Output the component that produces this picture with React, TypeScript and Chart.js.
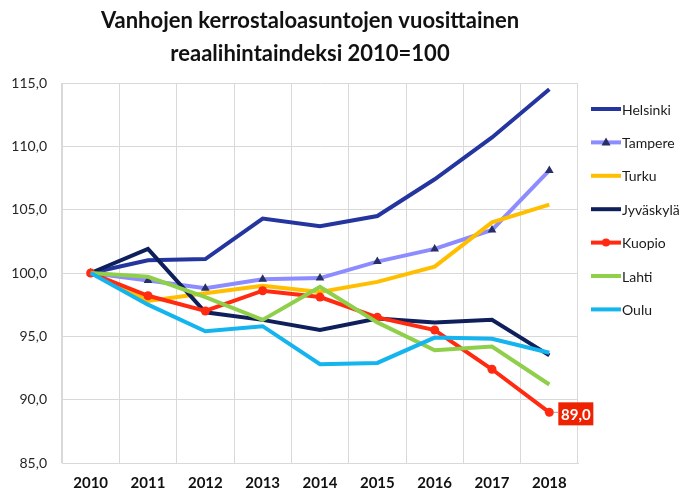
import React, { useEffect, useRef } from "react";
import { Chart, registerables } from "chart.js";

Chart.register(...registerables);

const years = ["2010", "2011", "2012", "2013", "2014", "2015", "2016", "2017", "2018"];
const titleLines = ["Vanhojen kerrostaloasuntojen vuosittainen", "reaalihintaindeksi 2010=100"];

const helsinki = [100, 101.0, 101.1, 104.3, 103.7, 104.5, 107.4, 110.7, 114.5];
const tampere = [100, 99.4, 98.8, 99.5, 99.6, 100.9, 101.9, 103.4, 108.1];
const turku = [100, 97.8, 98.4, 99.0, 98.5, 99.3, 100.5, 104.0, 105.4];
const jyvaskyla = [100, 101.9, 96.9, 96.3, 95.5, 96.4, 96.1, 96.3, 93.5];
const kuopio = [100, 98.2, 97.0, 98.6, 98.1, 96.5, 95.5, 92.4, 89.0];
const lahti = [100, 99.7, 98.1, 96.3, 98.9, 96.1, 93.9, 94.2, 91.2];
const oulu = [100, 97.5, 95.4, 95.8, 92.8, 92.9, 94.9, 94.8, 93.7];

const seriesNames = ["Helsinki", "Tampere", "Turku", "Jyväskylä", "Kuopio", "Lahti", "Oulu"];
const seriesValues = [helsinki, tampere, turku, jyvaskyla, kuopio, lahti, oulu];
const seriesColors = ["#2435a0", "#8c8cff", "#ffbf00", "#0e1f5b", "#ff2a10", "#8fcf4a", "#14b4ef"];
const seriesMarkers: (string | null)[] = [null, "triangle", null, null, "circle", null, null];
const markerColors: (string | null)[] = [null, "#262f66", null, null, "#ff2a10", null, null];

const yTicksMin = 85;
const yTicksMax = 115;
const yTicksStep = 5;
const labelSeriesIndex = 4;

const FONT = "Lato, 'Open Sans', sans-serif";

const fmt = (v: number) => v.toFixed(1).replace(".", ",");

const titlePlugin = {
  id: "customTitle",
  afterDraw(chart: any) {
    const ctx = chart.ctx;
    ctx.save();
    ctx.fillStyle = "#111111";
    ctx.textAlign = "center";
    ctx.textBaseline = "middle";
    let size = 22;
    ctx.font = `bold ${size}px ${FONT}`;
    while (ctx.measureText(titleLines[0]).width > 440 && size > 12) {
      size -= 0.5;
      ctx.font = `bold ${size}px ${FONT}`;
    }
    ctx.fillText(titleLines[0], 310, 21);
    ctx.fillText(titleLines[1], 310, 54);
    ctx.restore();
  },
};

const legendPlugin = {
  id: "customLegend",
  afterDraw(chart: any) {
    const ctx = chart.ctx;
    ctx.save();
    chart.data.datasets.forEach((ds: any, i: number) => {
      const y = 109 + i * 33.4;
      ctx.strokeStyle = ds.borderColor;
      ctx.lineWidth = 4;
      ctx.lineCap = "butt";
      ctx.beginPath();
      ctx.moveTo(591, y);
      ctx.lineTo(621, y);
      ctx.stroke();
      const cx = 606;
      const marker = seriesMarkers[i];
      const mColor = markerColors[i] || ds.borderColor;
      if (marker === "triangle") {
        ctx.fillStyle = mColor;
        ctx.beginPath();
        ctx.moveTo(cx, y - 5);
        ctx.lineTo(cx + 4.5, y + 3);
        ctx.lineTo(cx - 4.5, y + 3);
        ctx.closePath();
        ctx.fill();
      } else if (marker === "circle") {
        ctx.fillStyle = mColor;
        ctx.beginPath();
        ctx.arc(cx, y, 4, 0, Math.PI * 2);
        ctx.fill();
      }
      ctx.fillStyle = "#1a1a1a";
      ctx.font = `14px ${FONT}`;
      ctx.textAlign = "left";
      ctx.textBaseline = "middle";
      ctx.fillText(ds.label, 622, y + 1);
    });
    ctx.restore();
  },
};

const dataLabelPlugin = {
  id: "dataLabel",
  afterDatasetsDraw(chart: any) {
    const meta = chart.getDatasetMeta(labelSeriesIndex);
    const pts = meta.data;
    const last = pts[pts.length - 1];
    const value = seriesValues[labelSeriesIndex][seriesValues[labelSeriesIndex].length - 1];
    const ctx = chart.ctx;
    ctx.save();
    const x = last.x;
    const y = last.y;
    ctx.strokeStyle = "#a6a6a6";
    ctx.lineWidth = 1;
    ctx.beginPath();
    ctx.moveTo(x + 4, y);
    ctx.lineTo(x + 9, y);
    ctx.stroke();
    const bx = x + 9;
    const bw = 35;
    const bh = 23;
    const by = y - 10;
    ctx.fillStyle = "#ee2200";
    ctx.fillRect(bx, by, bw, bh);
    ctx.fillStyle = "#ffffff";
    ctx.font = `bold 15px ${FONT}`;
    ctx.textAlign = "center";
    ctx.textBaseline = "middle";
    ctx.fillText(fmt(value), bx + bw / 2, by + bh / 2 + 1);
    ctx.restore();
  },
};

export default function App() {
  const ref = useRef<HTMLCanvasElement | null>(null);
  useEffect(() => {
    if (!ref.current) return;
    const chart = new Chart(ref.current, {
      type: "line",
      data: {
        labels: years,
        datasets: seriesNames.map((name, i) => ({
          label: name,
          data: seriesValues[i],
          borderColor: seriesColors[i],
          backgroundColor: seriesColors[i],
          borderWidth: 4,
          tension: 0,
          pointStyle: seriesMarkers[i] || "circle",
          pointRadius: seriesMarkers[i] === "triangle" ? 5 : seriesMarkers[i] === "circle" ? 4.5 : 0,
          pointBackgroundColor: markerColors[i] || seriesColors[i],
          pointBorderColor: markerColors[i] || seriesColors[i],
          pointBorderWidth: 0,
          order: 10 - i,
        })),
      },
      plugins: [titlePlugin, legendPlugin, dataLabelPlugin],
      options: {
        responsive: true,
        maintainAspectRatio: false,
        animation: false,
        layout: { padding: { top: 83, right: 107, bottom: 0, left: 0 } },
        plugins: {
          legend: { display: false },
          title: { display: false },
          tooltip: { enabled: false },
        },
        scales: {
          x: {
            offset: true,
            grid: { offset: true, color: "#d9d9d9", drawTicks: false },
            border: { color: "#d9d9d9" },
            ticks: {
              padding: 11,
              color: "#111111",
              font: { family: FONT, size: 15, weight: "bold" },
            },
            afterFit: (s: any) => {
              s.height = 30;
            },
          },
          y: {
            min: yTicksMin,
            max: yTicksMax,
            grid: { color: "#d9d9d9", drawTicks: false },
            border: { color: "#d9d9d9" },
            ticks: {
              stepSize: yTicksStep,
              padding: 15,
              color: "#262626",
              font: { family: FONT, size: 14 },
              callback: (v: any) => fmt(Number(v)),
            },
            afterFit: (s: any) => {
              s.width = 62;
            },
          },
        },
      },
    });
    return () => chart.destroy();
  }, []);
  return (
    <div style={{ position: "absolute", left: 0, top: 0, width: 685, height: 493, background: "#ffffff" }}>
      <canvas ref={ref} />
    </div>
  );
}
